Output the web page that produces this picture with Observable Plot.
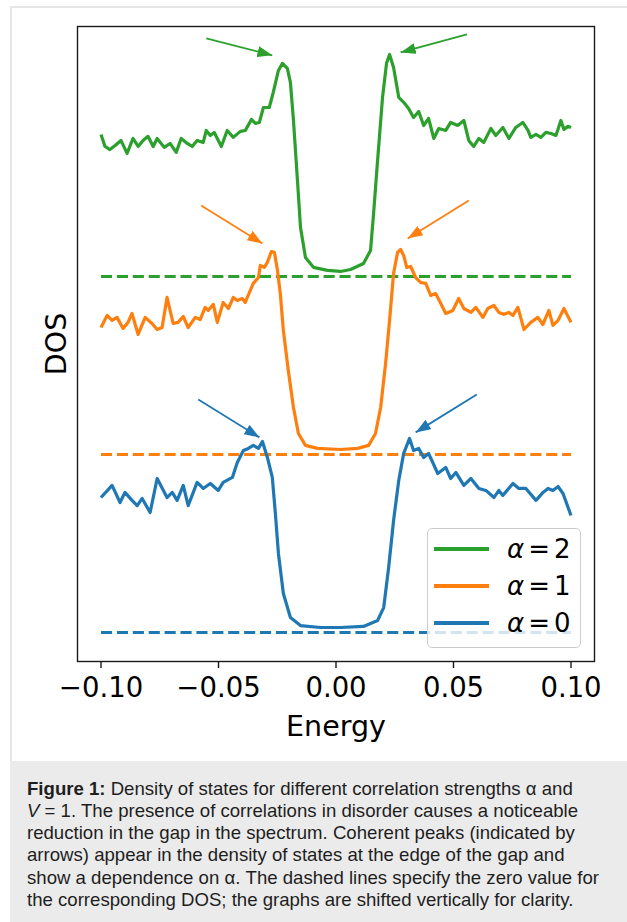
<!DOCTYPE html>
<html><head><meta charset="utf-8">
<script src="https://cdn.jsdelivr.net/npm/d3@7"></script>
<script src="https://cdn.jsdelivr.net/npm/@observablehq/plot@0.6"></script>
<style>
html,body{margin:0;padding:0;background:#fff;width:627px;height:922px;overflow:hidden;position:relative}
#chart{position:absolute;left:0;top:0}
.bt{position:absolute;left:10px;top:6px;width:617px;height:2px;background:#e6e6e6}
.bl{position:absolute;left:10px;top:6px;width:2px;height:755px;background:#e6e6e6}
#cap{position:absolute;left:10px;top:761px;width:617px;height:161px;background:#ebebeb;font-family:"Liberation Sans",Arial,sans-serif;font-size:18.6px;line-height:22.3px;color:#1e1e1e;padding:16.5px 0 0 17px;box-sizing:border-box;white-space:nowrap}
#legend{position:absolute;left:427px;top:528px;width:154px;height:120px;box-sizing:border-box;border:1.3px solid #ccc;border-radius:5px;background:rgba(255,255,255,0.8);font-family:"DejaVu Sans",sans-serif;font-size:26px;color:#000}
.sw{position:absolute;left:6px;width:55px;height:3.5px}
.lab{position:absolute;left:79px;line-height:26px;height:26px;white-space:nowrap}
.lab .eq{margin:0 4px}
</style></head>
<body>
<div id="chart"></div>
<div class="bt"></div><div class="bl"></div>
<div id="legend"></div>
<div id="cap"><b>Figure 1:</b> Density of states for different correlation strengths α and<br><i>V</i> = 1. The presence of correlations in disorder causes a noticeable<br>reduction in the gap in the spectrum. Coherent peaks (indicated by<br>arrows) appear in the density of states at the edge of the gap and<br>show a dependence on α. The dashed lines specify the zero value for<br>the corresponding DOS; the graphs are shifted vertically for clarity.</div>
<script>
// ---- data ----
const energyTicks = [-0.10, -0.05, 0.00, 0.05, 0.10];
const alphaValues = [0, 1, 2];
const seriesColors = ["#1f77b4", "#ff7f0e", "#2ca02c"];
const seriesOffsets = [0, 1, 2];

const energy0 = [-0.100,-0.0953,-0.0919,-0.0898,-0.0868,-0.0846,-0.0825,-0.0791,-0.0761,-0.0719,-0.0697,-0.0676,-0.0650,-0.0629,-0.0591,-0.0565,-0.0535,-0.0501,-0.0480,-0.0441,-0.0420,-0.0394,-0.0373,-0.0352,-0.0330,-0.0313,-0.0292,-0.0271,-0.0258,-0.0245,-0.0224,-0.0194,-0.0151,-0.0066,0.0019,0.0117,0.0177,0.0203,0.0224,0.0245,0.0267,0.0288,0.0313,0.0330,0.0352,0.0373,0.0394,0.0433,0.0467,0.0488,0.0510,0.0544,0.0574,0.0608,0.0638,0.0672,0.0693,0.0710,0.0753,0.0778,0.0808,0.0851,0.0881,0.0902,0.0923,0.0945,0.0966,0.100];
const dos0 = [0.758,0.826,0.730,0.787,0.742,0.713,0.753,0.674,0.865,0.758,0.787,0.742,0.826,0.713,0.843,0.809,0.837,0.798,0.843,0.871,0.955,1.022,1.034,1.051,1.034,1.073,0.983,0.871,0.669,0.444,0.219,0.084,0.039,0.028,0.028,0.034,0.067,0.140,0.365,0.629,0.854,1.006,1.090,1.022,1.034,0.983,1.006,0.893,0.927,0.865,0.899,0.826,0.865,0.809,0.798,0.758,0.798,0.770,0.837,0.809,0.809,0.742,0.787,0.809,0.798,0.820,0.781,0.657];

const energy1 = [-0.100,-0.0974,-0.0953,-0.0932,-0.0906,-0.0885,-0.0868,-0.0842,-0.0812,-0.0783,-0.0761,-0.0740,-0.0719,-0.0693,-0.0672,-0.0650,-0.0629,-0.0599,-0.0578,-0.0557,-0.0544,-0.0522,-0.0505,-0.0480,-0.0458,-0.0437,-0.0420,-0.0399,-0.0386,-0.0365,-0.0352,-0.0330,-0.0322,-0.0305,-0.0292,-0.0275,-0.0262,-0.0249,-0.0237,-0.0224,-0.0203,-0.0181,-0.0160,-0.0130,-0.0079,0.0019,0.0092,0.0139,0.0168,0.0190,0.0211,0.0228,0.0245,0.0262,0.0275,0.0288,0.0301,0.0318,0.0339,0.0360,0.0382,0.0403,0.0424,0.0446,0.0467,0.0497,0.0522,0.0544,0.0574,0.0595,0.0625,0.0646,0.0672,0.0693,0.0714,0.0736,0.0753,0.0774,0.0800,0.0829,0.0859,0.0880,0.0906,0.0923,0.0945,0.0970,0.100];
const dos1 = [0.713,0.781,0.753,0.770,0.708,0.742,0.792,0.674,0.770,0.736,0.702,0.713,0.882,0.736,0.742,0.775,0.713,0.770,0.758,0.826,0.809,0.843,0.742,0.854,0.820,0.882,0.865,0.876,0.854,0.921,0.961,0.994,1.062,1.051,1.079,1.140,1.135,1.034,0.904,0.697,0.472,0.264,0.118,0.051,0.034,0.028,0.034,0.051,0.118,0.264,0.511,0.753,1.017,1.135,1.152,1.118,1.051,1.056,0.994,0.966,0.961,0.893,0.904,0.848,0.792,0.809,0.876,0.820,0.798,0.826,0.770,0.820,0.837,0.798,0.787,0.798,0.781,0.826,0.702,0.742,0.770,0.730,0.809,0.725,0.753,0.820,0.742];

const energy2 = [-0.100,-0.0983,-0.0962,-0.0940,-0.0915,-0.0889,-0.0864,-0.0842,-0.0821,-0.0800,-0.0778,-0.0761,-0.0731,-0.0706,-0.0680,-0.0659,-0.0633,-0.0612,-0.0591,-0.0565,-0.0552,-0.0535,-0.0518,-0.0488,-0.0463,-0.0437,-0.0407,-0.0386,-0.0360,-0.0343,-0.0326,-0.0309,-0.0284,-0.0267,-0.0245,-0.0228,-0.0207,-0.0194,-0.0181,-0.0164,-0.0151,-0.0130,-0.0096,-0.0036,0.0019,0.0062,0.0117,0.0147,0.0160,0.0177,0.0198,0.0215,0.0228,0.0245,0.0267,0.0288,0.0309,0.0330,0.0352,0.0373,0.0394,0.0416,0.0437,0.0467,0.0488,0.0518,0.0544,0.0565,0.0586,0.0608,0.0629,0.0659,0.0680,0.0710,0.0736,0.0765,0.0795,0.0817,0.0829,0.0851,0.0872,0.0893,0.0915,0.0936,0.0957,0.0970,0.0987,0.100];
const dos2 = [0.798,0.730,0.713,0.736,0.764,0.691,0.775,0.730,0.764,0.787,0.730,0.775,0.725,0.747,0.697,0.775,0.747,0.730,0.764,0.753,0.820,0.792,0.809,0.730,0.820,0.781,0.815,0.820,0.882,0.860,0.865,0.949,0.949,1.034,1.157,1.197,1.169,1.090,0.876,0.539,0.275,0.107,0.051,0.034,0.028,0.039,0.073,0.146,0.354,0.652,1.006,1.197,1.247,1.174,1.006,0.978,0.944,0.893,0.927,0.848,0.888,0.775,0.831,0.820,0.865,0.848,0.876,0.764,0.730,0.775,0.753,0.831,0.792,0.837,0.775,0.837,0.865,0.820,0.781,0.798,0.781,0.809,0.803,0.792,0.876,0.826,0.843,0.837];

// arrows (raw DOS units, before vertical shift): tail -> head
const arrowSeries = [0, 0, 1, 1, 2, 2];
const arrowTailE = [-0.0586, 0.0599, -0.0574, 0.0565, -0.0552, 0.0557];
const arrowTailD = [1.309, 1.337, 1.399, 1.427, 1.337, 1.360];
const arrowHeadE = [-0.0326, 0.0339, -0.0313, 0.0305, -0.0271, 0.0275];
const arrowHeadD = [1.096, 1.124, 1.185, 1.213, 1.242, 1.258];

// ---- build ----
const energies = [energy0, energy1, energy2];
const dosValues = [dos0, dos1, dos2];
const series = alphaValues.map((a, i) => ({
  alpha: a, color: seriesColors[i], offset: seriesOffsets[i],
  points: energies[i].map((e, j) => ({E: e, D: dosValues[i][j] + seriesOffsets[i]}))
}));
const arrows = arrowSeries.map((s, k) => ({
  s, x1: arrowTailE[k], y1: arrowTailD[k] + seriesOffsets[s],
  x2: arrowHeadE[k], y2: arrowHeadD[k] + seriesOffsets[s]
}));

function filledHead(color) {
  const m = d3.create("svg:marker")
    .attr("viewBox", "-15 -5.5 15 11")
    .attr("markerWidth", 15).attr("markerHeight", 11)
    .attr("markerUnits", "userSpaceOnUse")
    .attr("refX", 0).attr("refY", 0)
    .attr("orient", "auto");
  m.append("path").attr("d", "M-15,-5.5L0,0L-15,5.5Z").attr("fill", color).attr("stroke", "none");
  return m.node();
}

const marks = [];
series.forEach(s => {
  marks.push(Plot.link([s], {
    x1: d => d3.min(d.points, p => p.E), x2: d => d3.max(d.points, p => p.E),
    y1: d => d.offset, y2: d => d.offset,
    stroke: s.color, strokeWidth: 3.1, strokeDasharray: "11.1,4.8"
  }));
});
series.forEach(s => {
  marks.push(Plot.line(s.points, {x: "E", y: "D", stroke: s.color, strokeWidth: 3.2,
    strokeLinejoin: "round", strokeLinecap: "butt"}));
});
series.forEach((s, i) => {
  marks.push(Plot.link(arrows.filter(a => a.s === i), {
    x1: "x1", y1: "y1", x2: "x2", y2: "y2",
    stroke: s.color, strokeWidth: 1.8, markerEnd: filledHead
  }));
});
marks.push(Plot.frame({stroke: "#1a1a1a", strokeWidth: 1.4}));
marks.push(Plot.axisX({ticks: energyTicks, tickSize: 7, tickPadding: 9,
  tickFormat: d3.format(".2f"), fontSize: 27.5, strokeWidth: 1.4, stroke: "#1a1a1a", label: null}));
marks.push(Plot.text(["Energy"], {frameAnchor: "bottom", dy: 65, fontSize: 28.5,
  lineAnchor: "middle", textAnchor: "middle", text: d => d, fill: "#000"}));
marks.push(Plot.text(["DOS"], {frameAnchor: "left", dx: -21, rotate: -90, fontSize: 28.5,
  lineAnchor: "middle", textAnchor: "middle", text: d => d, fill: "#000"}));

const chart = Plot.plot({
  width: 627, height: 760,
  marginLeft: 77, marginRight: 33, marginTop: 26, marginBottom: 99,
  x: {domain: [-0.11, 0.11]},
  y: {domain: [-0.163, 3.404], axis: null},
  style: {fontFamily: "DejaVu Sans, sans-serif", fontSize: "27.5px", background: "transparent", color: "#000", overflow: "visible"},
  marks
});
document.getElementById("chart").appendChild(chart);

// legend (order: α = 2, 1, 0)
const legend = d3.select("#legend");
const legendOrder = [2, 1, 0];
legendOrder.forEach((idx, r) => {
  const cy = 20 + r * 37;
  legend.append("div").attr("class", "sw")
    .style("top", (cy - 1.75) + "px").style("background", seriesColors[idx]);
  const lab = legend.append("div").attr("class", "lab").style("top", (cy - 13) + "px");
  lab.append("i").text("α");
  lab.append("span").attr("class", "eq").text("=");
  lab.append("span").text(String(alphaValues[idx]));
});
</script>
</body></html>
